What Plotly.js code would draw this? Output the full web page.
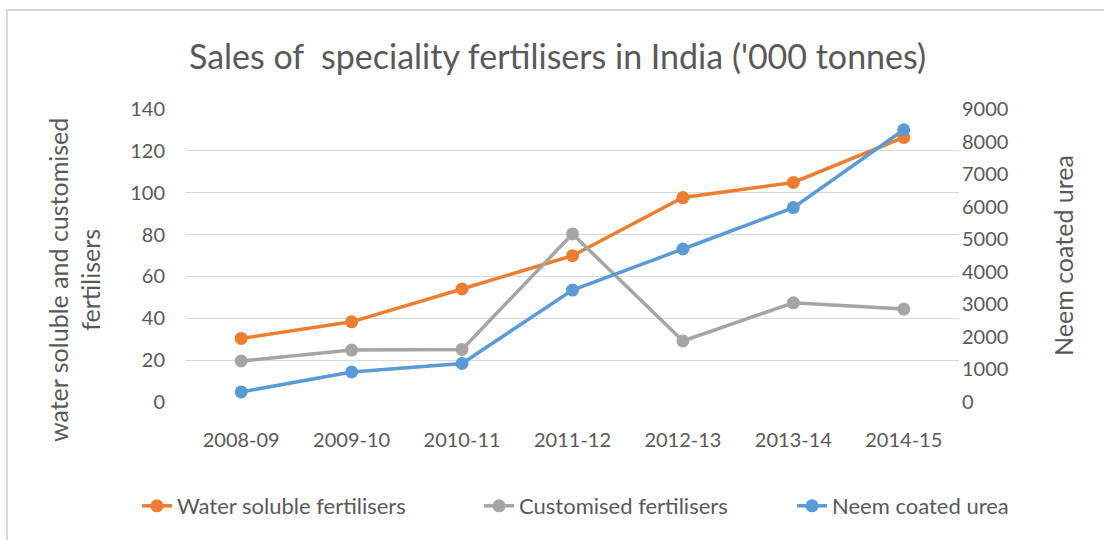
<!DOCTYPE html>
<html>
<head>
<meta charset="utf-8">
<script src="https://cdn.plot.ly/plotly-3.0.1.min.js"></script>
<style>
  html, body { margin: 0; padding: 0; background: #fff; }
  #wrap { position: relative; width: 1104px; height: 540px; }
  #frame { position: absolute; left: 6px; top: 9px; right: 0; bottom: 0;
           border-top: 2px solid #d9d9d9; border-left: 2px solid #d9d9d9; pointer-events: none; }
  #chart { position: absolute; left: 0; top: 0; width: 1104px; height: 540px; }
</style>
</head>
<body>
<div id="wrap">
  <div id="chart"></div>
  <div id="frame"></div>
</div>
<script>
const years = ['2008-09', '2009-10', '2010-11', '2011-12', '2012-13', '2013-14', '2014-15'];
const waterSoluble = [30.4, 38.3, 54.0, 69.9, 97.7, 104.9, 126.4];
const customised = [19.6, 24.8, 25.1, 80.3, 29.2, 47.4, 44.4];
const neemCoatedUrea = [308, 923, 1182, 3438, 4700, 5971, 8363];

const seriesNames = ['Water soluble fertilisers', 'Customised fertilisers', 'Neem coated urea'];
const colors = ['#ED7D31', '#A5A5A5', '#5B9BD5'];
const legendIds = ['legend', 'legend2', 'legend3'];

const font = 'Lato, "Open Sans", sans-serif';
const textColor = '#595959';

function lineTrace(y, i, axis) {
  return {
    type: 'scatter', mode: 'lines+markers',
    x: years, y: y, name: seriesNames[i], yaxis: axis,
    legend: legendIds[i],
    line: { color: colors[i], width: 3.5 },
    marker: { color: colors[i], size: 13 },
    hoverinfo: 'x+y+name'
  };
}

const data = [
  lineTrace(waterSoluble, 0, 'y'),
  lineTrace(customised, 1, 'y'),
  lineTrace(neemCoatedUrea, 2, 'y2')
];

function legendAt(x) {
  return {
    orientation: 'h', x: x, xanchor: 'left', y: -0.355, yanchor: 'middle',
    font: { family: font, size: 22, color: textColor },
    bgcolor: 'rgba(0,0,0,0)'
  };
}

const layout = {
  width: 1104, height: 540,
  margin: { l: 186, r: 145, t: 109, b: 138 },
  paper_bgcolor: '#ffffff', plot_bgcolor: '#ffffff',
  font: { family: font, color: textColor, size: 20 },
  title: {
    text: "Sales of  speciality fertilisers in India ('000 tonnes)",
    font: { family: font, size: 34, color: textColor },
    x: 0.505, xanchor: 'center', y: 0.895, yanchor: 'middle'
  },
  showlegend: true,
  legend: legendAt(-0.0634),
  legend2: legendAt(0.3791),
  legend3: legendAt(0.784),
  xaxis: {
    type: 'category', range: [-0.5, 6.5],
    showgrid: false, zeroline: false, showline: false, ticks: '',
    tickfont: { family: font, size: 20, color: textColor },
    ticklabelstandoff: 24
  },
  yaxis: {
    range: [0, 140], dtick: 20, tick0: 0,
    showgrid: true, gridcolor: '#d9d9d9', gridwidth: 1,
    zeroline: false, showline: false, ticks: '',
    tickfont: { family: font, size: 20, color: textColor },
    ticklabelstandoff: 20
  },
  yaxis2: {
    overlaying: 'y', side: 'right',
    range: [0, 9000], dtick: 1000, tick0: 0,
    showgrid: false, zeroline: false, showline: false, ticks: '',
    tickfont: { family: font, size: 20, color: textColor },
    ticklabelstandoff: 2,
    title: {
      text: 'Neem coated urea',
      font: { family: font, size: 25, color: textColor },
      standoff: 48
    }
  },
  annotations: [{
    text: 'water soluble and customised<br>fertilisers',
    xref: 'paper', yref: 'paper', x: -0.145, y: 0.416,
    xanchor: 'center', yanchor: 'middle', textangle: -90, showarrow: false,
    font: { family: font, size: 25, color: textColor }
  }]
};

Plotly.newPlot('chart', data, layout, { displayModeBar: false, responsive: false });
</script>
</body>
</html>
